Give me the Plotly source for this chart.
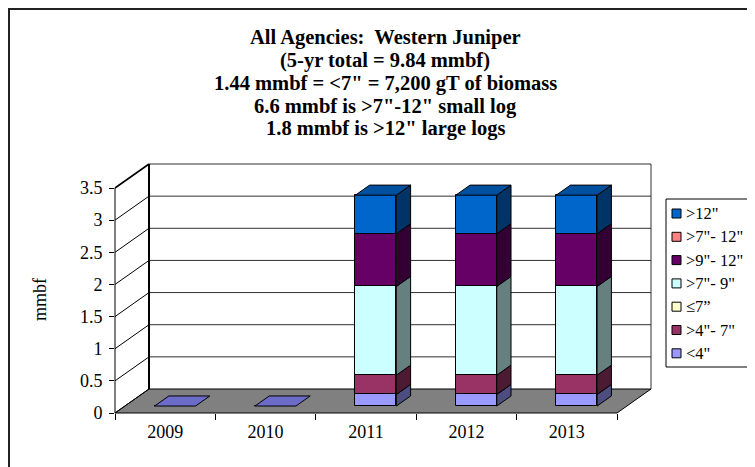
import plotly.graph_objects as go

# ---------------- data ----------------
years = ["2009", "2010", "2011", "2012", "2013"]
series_names = ['<4"', '>4"- 7"', '\u22647\u201d', '>7"- 9"', '>9"- 12"', '>7"- 12"', '>12"']
lt4 = [0, 0, 0.18, 0.18, 0.18]
g4_7 = [0, 0, 0.30, 0.30, 0.30]
le7 = [0, 0, 0, 0, 0]
g7_9 = [0, 0, 1.38, 1.38, 1.38]
g9_12 = [0, 0, 0.82, 0.82, 0.82]
g7_12 = [0, 0, 0, 0, 0]
g12 = [0, 0, 0.60, 0.60, 0.60]
series_values = [lt4, g4_7, le7, g7_9, g9_12, g7_12, g12]
y_ticks = [0, 0.5, 1, 1.5, 2, 2.5, 3, 3.5]
y_tick_text = ["0", "0.5", "1", "1.5", "2", "2.5", "3", "3.5"]

title_lines = [
    "All Agencies:  Western Juniper",
    "(5-yr total = 9.84 mmbf)",
    '1.44 mmbf = <7" = 7,200 gT of biomass',
    '6.6 mmbf is >7"-12" small log',
    '1.8 mmbf is >12" large logs',
]

# ---------------- style ----------------
front_colors = ["#9999FF", "#993366", "#FFFFCC", "#CCFFFF", "#660066", "#FF8080", "#0066CC"]
side_colors = ["#4D4D80", "#4D1A33", "#808066", "#668080", "#330033", "#804040", "#003366"]
top_colors = ["#6B6BC8", "#7A2952", "#CCCCA3", "#A3CCCC", "#520052", "#CC6666", "#0050A0"]
FONT = "Liberation Serif"

# 3-D projection (category units, value units)
DX = 34 / 100.4
DY = 24 / 64.3
D0, D1 = 0.29, 0.71
W = 0.408
NC = len(years)
XR = NC + DX
YMAX = y_ticks[-1]
YR = YMAX + DY

OFF = 8                      # page body margin
FW, FH = 755 - OFF, 467 - OFF
PW, PH = 536, 249
ML, MT = 115 - OFF, 164 - OFF


def P(x, y):
    return x / XR, y / YR


def px(xp, yp):
    return (xp - OFF - ML) / PW, (MT + PH - (yp - OFF)) / PH


fig = go.Figure()

# cumulative bases
cum = [[0.0] * NC for _ in series_values]
run = [0.0] * NC
for s, vals in enumerate(series_values):
    for i in range(NC):
        cum[s][i] = run[i]
        run[i] += vals[i]
totals = run

# front faces
for s, vals in enumerate(series_values):
    fig.add_trace(go.Bar(
        x=[i + 0.5 + D0 * DX for i in range(NC)],
        y=vals,
        base=[cum[s][i] + D0 * DY for i in range(NC)],
        width=W,
        name=series_names[s],
        marker=dict(color=front_colors[s], line=dict(color="black", width=1)),
        hoverinfo="skip", showlegend=False,
    ))

# side faces
for s, vals in enumerate(series_values):
    xs, ys = [], []
    for i in range(NC):
        if vals[i] <= 0:
            continue
        xr = i + 0.5 + W / 2
        b, t = cum[s][i], cum[s][i] + vals[i]
        xs += [xr + D0 * DX, xr + D1 * DX, xr + D1 * DX, xr + D0 * DX, xr + D0 * DX, None]
        ys += [b + D0 * DY, b + D1 * DY, t + D1 * DY, t + D0 * DY, b + D0 * DY, None]
    if xs:
        fig.add_trace(go.Scatter(x=xs, y=ys, mode="lines", fill="toself",
                                 fillcolor=side_colors[s], line=dict(color="black", width=1),
                                 showlegend=False, hoverinfo="skip"))

# top faces
for i in range(NC):
    top_s = 0
    for s, vals in enumerate(series_values):
        if vals[i] > 0:
            top_s = s
    H = totals[i]
    xl = i + 0.5 - W / 2
    xr = i + 0.5 + W / 2
    fig.add_trace(go.Scatter(
        x=[xl + D0 * DX, xr + D0 * DX, xr + D1 * DX, xl + D1 * DX, xl + D0 * DX],
        y=[H + D0 * DY, H + D0 * DY, H + D1 * DY, H + D1 * DY, H + D0 * DY],
        mode="lines", fill="toself", fillcolor=top_colors[top_s],
        line=dict(color="black", width=1), showlegend=False, hoverinfo="skip"))

# ---------------- frame (walls / floor / gridlines) ----------------
shapes = []
f = [P(0, 0), P(NC, 0), P(NC + DX, DY), P(DX, DY)]
shapes.append(dict(type="path", xref="paper", yref="paper", layer="below",
                   path="M%f,%f L%f,%f L%f,%f L%f,%f Z" % (f[0] + f[1] + f[2] + f[3]),
                   fillcolor="#808080", line=dict(color="black", width=1)))
for v in y_ticks[1:]:
    a, b = P(DX, v + DY), P(NC + DX, v + DY)
    shapes.append(dict(type="line", xref="paper", yref="paper", layer="below",
                       x0=a[0], y0=a[1], x1=b[0], y1=b[1], line=dict(color="#303030", width=1)))
for v in y_ticks:
    a, b = P(0, v), P(DX, v + DY)
    w = 1.6 if v == YMAX else 1
    shapes.append(dict(type="line", xref="paper", yref="paper", layer="below",
                       x0=a[0], y0=a[1], x1=b[0], y1=b[1], line=dict(color="black", width=w)))
a, b = P(DX, DY), P(DX, YMAX + DY)
shapes.append(dict(type="line", xref="paper", yref="paper", layer="below",
                   x0=a[0], y0=a[1], x1=b[0], y1=b[1], line=dict(color="black", width=2)))
a, b = P(NC + DX, DY), P(NC + DX, YMAX + DY)
shapes.append(dict(type="line", xref="paper", yref="paper", layer="below",
                   x0=a[0], y0=a[1], x1=b[0], y1=b[1], line=dict(color="#303030", width=1)))
a, b = P(0, 0), P(0, YMAX)
shapes.append(dict(type="line", xref="paper", yref="paper", layer="above",
                   x0=a[0], y0=a[1], x1=b[0], y1=b[1], line=dict(color="black", width=1)))

# outer chart border (top and left)
a, b, c = px(9, 470), px(9, 9), px(760, 9)
shapes.append(dict(type="path", xref="paper", yref="paper", layer="above",
                   path="M%f,%f L%f,%f L%f,%f" % (a + b + c),
                   line=dict(color="#222222", width=2)))

annotations = []

# ---------------- legend (box + swatches + text) ----------------
a, b = px(666, 199), px(748, 367)
shapes.append(dict(type="rect", xref="paper", yref="paper", layer="above",
                   x0=a[0], y0=a[1], x1=b[0], y1=b[1], fillcolor="white",
                   line=dict(color="black", width=1)))
for k, s in enumerate(reversed(range(len(series_names)))):
    yc = 213.5 + k * 23.3
    a, b = px(672, yc - 4.5), px(681, yc + 4.5)
    shapes.append(dict(type="rect", xref="paper", yref="paper", layer="above",
                       x0=a[0], y0=a[1], x1=b[0], y1=b[1], fillcolor=front_colors[s],
                       line=dict(color="black", width=1)))
    xp, yp = px(684, yc)
    annotations.append(dict(text=series_names[s], x=xp, y=yp, xref="paper", yref="paper",
                            xanchor="left", yanchor="middle", showarrow=False,
                            font=dict(family=FONT, size=16.5, color="black")))

# ---------------- titles ----------------
title_y = [38, 61, 83.5, 106, 128.5]
for t, yy in zip(title_lines, title_y):
    xp, yp = px(385, yy)
    annotations.append(dict(text=t, x=xp, y=yp, xref="paper", yref="paper",
                            xanchor="center", yanchor="middle", showarrow=False,
                            font=dict(family=FONT, size=20.5, color="black", weight="bold")))
xp, yp = px(40, 300)
annotations.append(dict(text="mmbf", x=xp, y=yp, xref="paper", yref="paper", textangle=-90,
                        xanchor="center", yanchor="middle", showarrow=False,
                        font=dict(family=FONT, size=18, color="black")))

fig.update_layout(
    width=FW, height=FH, autosize=False,
    margin=dict(l=ML, r=FW - ML - PW, t=MT, b=FH - MT - PH, pad=0, autoexpand=False),
    paper_bgcolor="white", plot_bgcolor="rgba(0,0,0,0)",
    barmode="overlay", bargap=0,
    shapes=shapes, annotations=annotations,
    xaxis=dict(range=[0, XR], showgrid=False, zeroline=False, showline=False,
               tickvals=[i + 0.5 for i in range(NC)], ticktext=years, ticks="",
               tickfont=dict(family=FONT, size=18, color="black"), ticklabelstandoff=6,
               minor=dict(tickvals=list(range(NC + 1)), ticks="outside", ticklen=6,
                          tickcolor="black", showgrid=False),
               fixedrange=True, automargin=False),
    yaxis=dict(range=[0, YR], showgrid=False, zeroline=False, showline=False,
               tickvals=y_ticks, ticktext=y_tick_text, ticks="outside", ticklen=5,
               tickcolor="black", tickfont=dict(family=FONT, size=18, color="black"),
               ticklabelstandoff=3, fixedrange=True, automargin=False),
    showlegend=False,
)

fig.write_html("out.html")
